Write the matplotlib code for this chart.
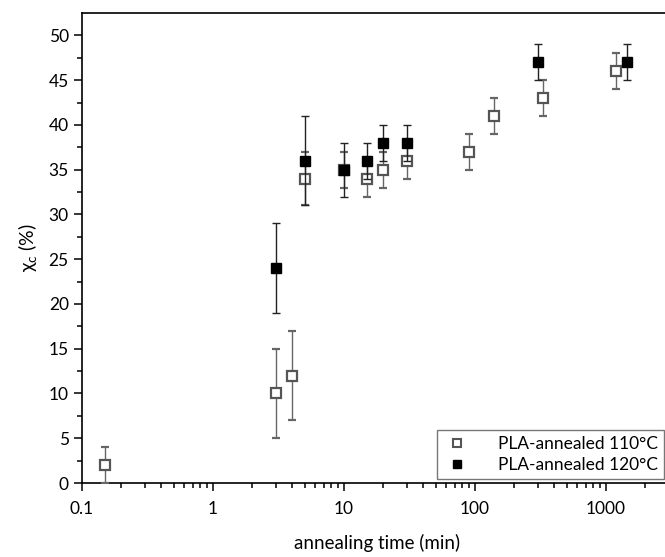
import matplotlib
matplotlib.use('Agg')
import matplotlib.pyplot as plt
from matplotlib.lines import Line2D
from matplotlib.ticker import LogLocator, FixedLocator, NullFormatter

plt.rcParams['font.family'] = ['Lato', 'DejaVu Sans']
plt.rcParams['mathtext.fontset'] = 'custom'
plt.rcParams['mathtext.rm'] = 'Lato'

# PLA annealed at 110 C
t110 = [0.15, 3, 4, 5, 10, 15, 20, 30, 90, 140, 330, 1200]
xc110 = [2, 10, 12, 34, 35, 34, 35, 36, 37, 41, 43, 46]
err110 = [2, 5, 5, 3, 2, 2, 2, 2, 2, 2, 2, 2]

# PLA annealed at 120 C
t120 = [3, 5, 10, 15, 20, 30, 300, 1440]
xc120 = [24, 36, 35, 36, 38, 38, 47, 47]
err120 = [5, 5, 3, 2, 2, 2, 2, 2]

labels = ['PLA-annealed 110°C', 'PLA-annealed 120°C']

fig = plt.figure(figsize=(6.65, 5.57), dpi=100)
ax = fig.add_axes([82 / 665, 1 - 483 / 557, 1 - 82 / 665 + 0.01, (483 - 13) / 557])

ax.errorbar(t110, xc110, yerr=err110, fmt='s', ms=6.5, mfc='white', mec='#555555',
            mew=1.6, ecolor='#666666', elinewidth=1, capsize=3, capthick=1, zorder=3)
ax.errorbar(t120, xc120, yerr=err120, fmt='s', ms=7, mfc='black', mec='black',
            ecolor='#222222', elinewidth=1, capsize=3, capthick=1, zorder=4)

ax.set_xscale('log')
ax.set_xlim(0.1, 0.1 * 10 ** ((665 - 82) / 131 + 0.01 * 665 / 131))
ax.set_ylim(0, 52.5)
ax.set_yticks(range(0, 51, 5))
ax.yaxis.set_minor_locator(FixedLocator([2.5 + 5 * i for i in range(10)]))
ax.xaxis.set_minor_locator(LogLocator(base=10, subs=range(2, 10), numticks=20))
ax.xaxis.set_minor_formatter(NullFormatter())
ax.set_xticks([0.1, 1, 10, 100, 1000])
ax.set_xticklabels(['0.1', '1', '10', '100', '1000'])

ax.spines['right'].set_visible(False)
for s in ['left', 'bottom', 'top']:
    ax.spines[s].set_linewidth(1.2)
ax.tick_params(which='major', direction='out', length=6, width=1.1, labelsize=12.5)
ax.tick_params(axis='x', which='major', pad=7)
ax.tick_params(which='minor', direction='out', length=3.5, width=1.1)
ax.tick_params(axis='x', which='both', top=False)

ax.set_xlabel('annealing time (min)', fontsize=13.5, labelpad=12)
ax.set_ylabel('χ$_\\mathregular{c}$ (%)', fontsize=14, labelpad=6)

handles = [
    Line2D([], [], ls='none', marker='s', ms=5.5, mfc='white', mec='#555555', mew=1.5),
    Line2D([], [], ls='none', marker='s', ms=6, mfc='black', mec='black'),
]
leg = ax.legend(handles, labels, loc='lower right', bbox_to_anchor=(665 / 665 - 0.001, 78 / 557),
                bbox_transform=fig.transFigure, fontsize=12.5, frameon=True, fancybox=False,
                edgecolor='#555555', handletextpad=1.6, handlelength=1.6, borderpad=0.35,
                labelspacing=0.3, borderaxespad=0)
leg.get_frame().set_linewidth(1.0)

fig.savefig('out.png', dpi=100)
